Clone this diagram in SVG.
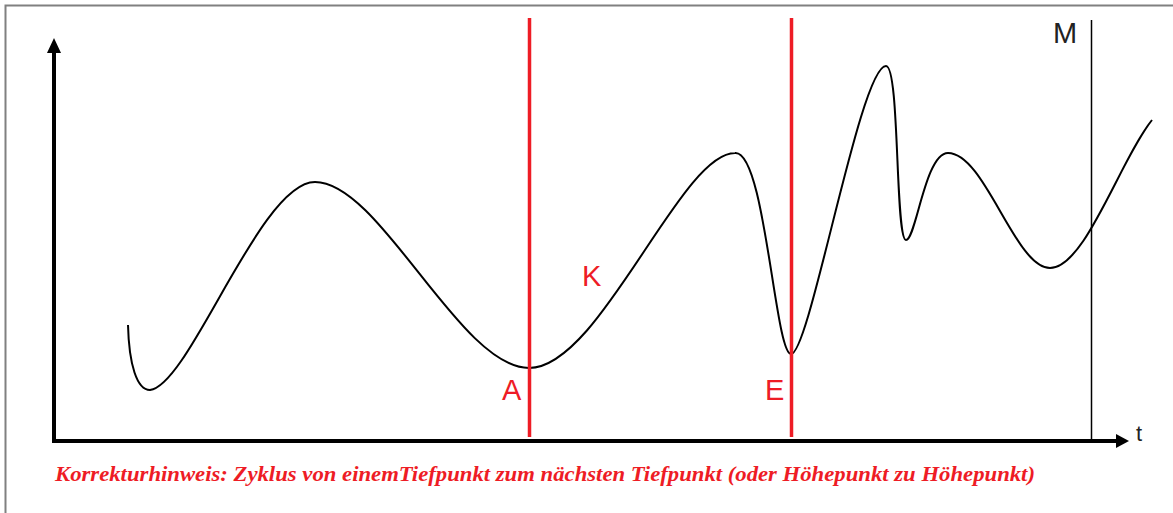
<svg xmlns="http://www.w3.org/2000/svg" width="1173" height="513" viewBox="0 0 1173 513">
<style>
.red{stroke:#ee1c25;stroke-width:3.5;fill:none}
.lbl{font-family:"Liberation Sans",Arial,sans-serif;font-size:29px;fill:#ee1c25}
.ax{stroke:#000;stroke-width:4;fill:none}
</style>
<rect width="1173" height="513" fill="#fff"/>
<path d="M5.5,513 V5.5 H1173" fill="none" stroke="#808080" stroke-width="2"/>
<g id="axes">
<line class="ax" x1="54" y1="443" x2="54" y2="50"/>
<polygon points="54,38 47,53 61,53" fill="#000"/>
<line class="ax" x1="52" y1="441" x2="1118" y2="441"/>
<polygon points="1129,441 1116,434 1116,448" fill="#000"/>
<text x="1136" y="441" font-family="'Liberation Sans',Arial,sans-serif" font-size="22" fill="#222">t</text>
</g>
<g id="curve">
<path d="M128,325 C129,365 137,390 150,390 C190,385 260,182 315,182 C380,182 460,368 529,368 C600,368 680,153 735,153 C765,150 775,354 791,354 C810,354 860,66 886,66 C900,66 895,240 906,240 C916,240 925,153 948,153 C985,153 1015,268 1050,268 C1085,268 1120,160 1152,120" fill="none" stroke="#000" stroke-width="2"/>
</g>
<g id="lines">
<line class="red" x1="529.5" y1="18" x2="529.5" y2="437"/>
<line class="red" x1="791.5" y1="18" x2="791.5" y2="437"/>
<line x1="1091.5" y1="20" x2="1091.5" y2="441" stroke="#000" stroke-width="1.5"/>
</g>
<g id="labels">
<text class="lbl" x="502" y="400">A</text>
<text class="lbl" x="582" y="286">K</text>
<text class="lbl" x="765" y="400">E</text>
<text x="1053" y="43" font-family="'Liberation Sans',Arial,sans-serif" font-size="29" fill="#222">M</text>
</g>
<text x="55" y="481" font-family="'Liberation Serif','Times New Roman',serif" font-size="22" font-weight="bold" font-style="italic" fill="#ee1c25" textLength="980" lengthAdjust="spacingAndGlyphs">Korrekturhinweis: Zyklus von einemTiefpunkt zum nächsten Tiefpunkt (oder Höhepunkt zu Höhepunkt)</text>
</svg>
